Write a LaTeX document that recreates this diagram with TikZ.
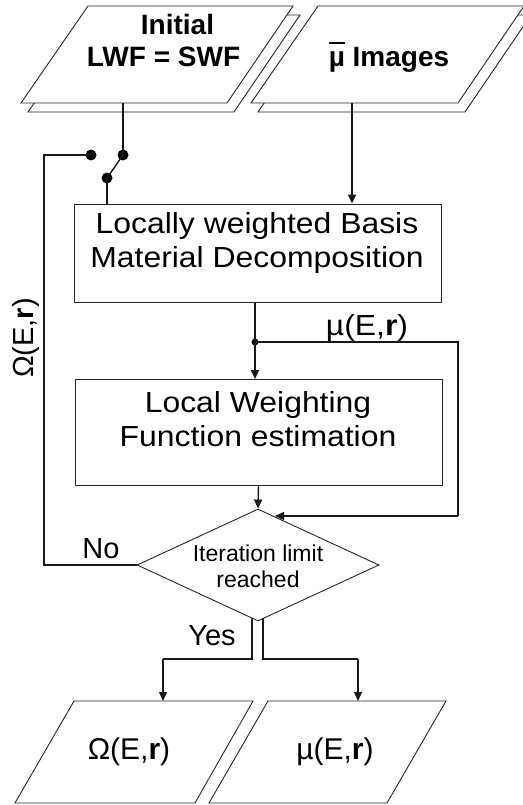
\documentclass[tikz,border=0pt]{standalone}
\usepackage{fontspec}
\setmainfont{Liberation Sans}
\newfontfamily\boxfont[FakeStretch=1.1]{Liberation Sans}
\usetikzlibrary{arrows.meta,shapes.geometric}
\newcommand{\mubar}{{\setbox0\hbox{µ}\rlap{\raisebox{23pt}{\rule{\wd0}{1.8pt}}}\box0}}
\begin{document}
\begin{tikzpicture}[x=1pt,y=-1pt,
  shapeline/.style={draw=black!85,line width=0.9pt,fill=white},
  conn/.style={draw=black!90,line width=1.4pt},
  arr/.style={conn,-{Triangle[length=9pt,width=8pt]}},
  dotc/.style={circle,fill=black,inner sep=0pt,minimum size=11pt},
  dots/.style={circle,fill=black,inner sep=0pt,minimum size=7pt},
  boxtxt/.style={font=\boxfont\fontsize{29}{34}\selectfont,align=center,inner sep=0pt},
  iotxt/.style={font=\fontsize{30}{34}\selectfont,inner sep=0pt},
  hdtxt/.style={font=\bfseries\fontsize{28}{32}\selectfont,inner sep=0pt,anchor=base}
]
\useasboundingbox (0,0) rectangle (522,805);
% ---- input parallelograms
\path[shapeline] (95,15) -- (300,15) -- (234,112) -- (28,112) -- cycle;
\path[shapeline] (88,6) -- (293,6) -- (227,103) -- (21,103) -- cycle;
\path[shapeline] (325,15) -- (531,15) -- (465,112) -- (258,112) -- cycle;
\path[shapeline] (318,6) -- (524,6) -- (458,103) -- (251,103) -- cycle;
\node[hdtxt] (in1a) at (177.5,35) {Initial};
\node[hdtxt] (in1b) at (163.5,67) {LWF = SWF};
\node[hdtxt] (in2) at (389,67) {\mubar\ Images};
\coordinate (in1out) at (123,103);
\coordinate (in2out) at (352,103);
% ---- boxes
\node[draw=black!85,line width=0.9pt,minimum width=367pt,minimum height=98pt,inner sep=0pt] (box1) at (257.5,253) {};
\node[boxtxt] (box1t) at (257,243) {Locally weighted Basis\\Material Decomposition};
\node[draw=black!85,line width=0.9pt,minimum width=367pt,minimum height=106pt,inner sep=0pt] (box2) at (258.5,432) {};
\node[boxtxt] (box2t) at (258,419) {Local Weighting\\Function estimation};
% ---- diamond
\node[draw=black!85,line width=0.9pt,diamond,minimum width=242pt,minimum height=112pt,inner sep=0pt] (dec) at (258,565) {};
\node[font=\fontsize{23}{26}\selectfont,align=center,inner sep=0pt] (dect) at (258,566) {Iteration limit\\reached};
% ---- output parallelograms
\path[shapeline] (74,701) -- (253,701) -- (195,803) -- (15,803) -- cycle;
\path[shapeline] (268,701) -- (446,701) -- (387,803) -- (209,803) -- cycle;
\node[iotxt] (out1) at (129,752) {Ω(E,\textbf{r})};
\node[iotxt] (out2) at (335,752) {µ(E,\textbf{r})};
\coordinate (out1in) at (163,701);
\coordinate (out2in) at (358,701);
% ---- switch
\node[dotc] (swA) at (91,155) {};
\node[dotc] (swB) at (123,155) {};
\node[dotc] (swC) at (107,178) {};
\draw[conn] (in1out) -- (swB.center);
\draw[conn] (swC.center) -- (swB.center);
\draw[conn] (swC.center) -- (swC.center |- box1.north);
% ---- connectors
\draw[arr] (in2out) -- (in2out |- box1.north);
\node[dots] (dj) at (255,342) {};
\draw[conn] (255,302) -- (dj.center);
\draw[arr] (dj.center) -- (255,379);
\coordinate (fbR1) at (458,342);
\coordinate (fbR2) at (458,516);
\coordinate (decin) at (275,516);
\draw[conn] (dj.center) -- (fbR1) -- (fbR2);
\draw[arr] (fbR2) -- (decin);
\draw[arr] (box2.south) -- (dec.north);
% feedback
\coordinate (fbL1) at (44,565);
\coordinate (fbL2) at (44,155);
\draw[conn] (dec.west) -- (fbL1) -- (fbL2) -- (swA.center);
\node[font=\fontsize{29}{32}\selectfont,inner sep=0pt] (no) at (101,549) {No};
\node[font=\fontsize{29}{32}\selectfont,inner sep=0pt,rotate=90] (omlab) at (26,338) {Ω(E,\textbf{r})};
\node[font=\boxfont\fontsize{29}{32}\selectfont,inner sep=0pt] (mulab) at (367,328) {µ(E,\textbf{r})};
% yes branches
\coordinate (y1a) at (252,618);
\coordinate (y1b) at (252,659);
\coordinate (y1c) at (163,659);
\coordinate (y2a) at (263,618);
\coordinate (y2b) at (263,659);
\coordinate (y2c) at (358,659);
\draw[conn] (y1a) -- (y1b) -- (y1c);
\draw[arr] (y1c) -- (out1in);
\draw[conn] (y2a) -- (y2b) -- (y2c);
\draw[arr] (y2c) -- (out2in);
\node[font=\fontsize{29}{32}\selectfont,inner sep=0pt] (yes) at (212,636) {Yes};
\end{tikzpicture}
\end{document}
